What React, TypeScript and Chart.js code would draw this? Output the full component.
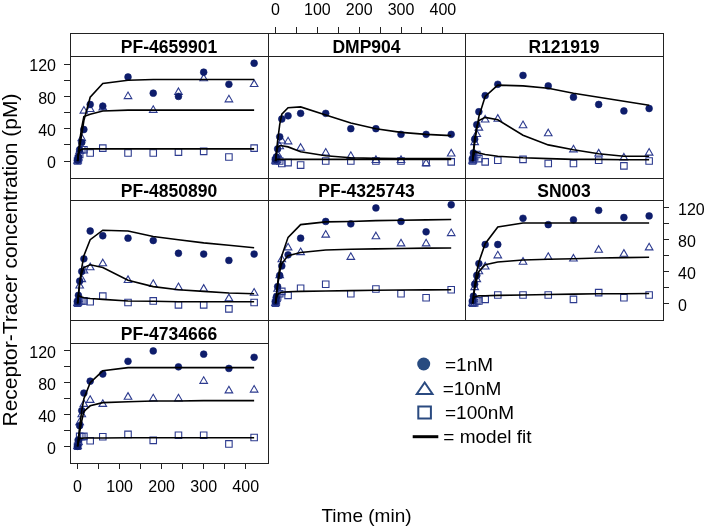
import React, { useEffect, useRef } from "react";
import { Chart, registerables } from "chart.js";
Chart.register(...registerables);

const CW = 709;
const CH = 529;
const FONT = "'Liberation Sans', Arial, Helvetica, sans-serif";

// ---------- data ----------
const timeMin = [0, 2, 5, 10, 15, 30, 60, 120, 180, 240, 300, 360, 420];
const xTickValues = [0, 50, 100, 150, 200, 250, 300, 350, 400];
const yTickValues = [0, 20, 40, 60, 80, 100, 120];
const legendLabels = ["=1nM", "=10nM", "=100nM", "= model fit"];
const yTitle = "Receptor-Tracer concentration (pM)";
const xTitle = "Time (min)";

// PF-4659901
const a_obs1 = [1, 5, 14, 23, 39, 70, 68, 104, 84, 80, 110, 95, 121];
const a_obs10 = [0, 4, 12, 28, 62, 64, 66, 80, 63, 85, 102, 76, 95];
const a_obs100 = [0, 3, 8, 14, 14, 10, 16, 10, 10, 11, 12, 5, 16];
const a_fit1 = [0, 8, 18, 33, 50, 79, 96, 100, 101, 101, 101, 101, 101];
const a_fit10 = [0, 10, 25, 42, 55, 58, 62, 63, 63, 63, 63, 63, 63];
const a_fit100 = [0, 8, 13, 14.5, 15, 15, 15, 15, 15, 15, 15, 15, 15];

// DMP904
const b_obs1 = [2, 5, 15, 30, 52, 56, 59, 59, 40, 40, 33, 33, 33];
const b_obs10 = [0, 3, 8, 18, 25, 24, 16, 10, 6, 1, 1, -3, 9];
const b_obs100 = [0, 1, 2, 0, -3, -2, -5, 0, 0, 0, 0, -2, -1];
const b_fit1 = [0, 10, 25, 45, 58, 66, 67, 57, 47, 40, 35.5, 33, 31.5];
const b_fit10 = [0, 8, 17, 19, 19, 17.5, 11.5, 6.6, 4, 3.3, 3, 3, 3];
const b_fit100 = [0, 2, 2, 2, 2, 2, 2, 2, 2, 2, 2, 2, 2];

// R121919
const c_obs1 = [3, 10, 27, 45, 61, 81, 95, 106, 93, 79, 70, 62, 65];
const c_obs10 = [0, 5, 23, 33, 41, 51, 52, 44, 34, 14, 9, 4, 10];
const c_obs100 = [0, 2, 5, 8, 3, -1, 1, 2, -3, -3, 1, -6, 0];
const c_fit1 = [0, 10, 22, 40, 55, 80, 94, 93, 90, 84, 79, 74, 69];
const c_fit10 = [0, 12, 28, 42, 50, 54, 51, 32, 20, 14, 9, 6, 6];
const c_fit100 = [0, 6, 11.5, 11, 10, 8, 6, 4, 3, 2, 2, 1.5, 1.5];

// PF-4850890
const d_obs1 = [2, 10, 28, 40, 56, 91, 85, 82, 79, 63, 62, 54, 62];
const d_obs10 = [0, 5, 22, 30, 41, 45, 50, 29, 24, 20, 18, 6, 13];
const d_obs100 = [0, 2, 3, 3, 3, 2, 9, 1, 3, -2, -2, -7, 1];
const d_fit1 = [0, 11, 26, 45, 60, 80, 92, 91, 84, 80, 76, 73, 70];
const d_fit10 = [0, 10, 25, 38, 45, 48.5, 45, 29, 21, 17, 15, 13, 12];
const d_fit100 = [0, 9, 9, 8, 7, 6, 5, 3, 2.5, 2, 2, 2, 2];

// PF-4325743
const e_obs1 = [2, 8, 21, 35, 47, 61, 82, 103, 100, 120, 103, 90, 124];
const e_obs10 = [0, 5, 18, 35, 55, 70, 64, 86, 58, 84, 75, 75, 88];
const e_obs100 = [0, 3, 8, 12, 15, 10, 19, 24, 12, 18, 12, 7, 17];
const e_fit1 = [0, 10, 25, 45, 60, 83, 99, 102.5, 103, 104, 104.5, 105, 105.4];
const e_fit10 = [0, 9, 22, 40, 50, 60, 64, 67, 68, 68.5, 69, 69.5, 69.6];
const e_fit100 = [0, 6, 11, 13, 14, 14.5, 15, 15.5, 16, 16.5, 16.8, 16.9, 17];

// SN003
const f_obs1 = [3, 9, 24, 35, 50, 74, 74, 107, 99, 105, 117, 108, 110];
const f_obs10 = [0, 5, 20, 30, 40, 46, 60, 52, 58, 56, 67, 62, 70];
const f_obs100 = [0, 1, 0.5, 3, 3, 5, 10.5, 10.5, 10.5, 5, 13.5, 7, 10.5];
const f_fit1 = [0, 9, 22, 40, 52, 75, 96, 101, 101, 101, 101, 101, 101];
const f_fit10 = [0, 8, 18, 30, 40, 48.5, 52, 54.5, 55.5, 56, 57, 57.5, 58];
const f_fit100 = [0, 5, 8, 9, 9.3, 9.5, 10, 10.5, 11, 11.5, 12, 12, 12.3];

// PF-4734666
const g_obs1 = [0, 8, 26, 45, 67, 82, 91, 107, 120, 100, 116, 98, 112];
const g_obs10 = [0, 5, 30, 40, 53, 58, 53, 62, 60, 60, 82, 70, 71];
const g_obs100 = [0, 5, 12.5, 12, 12.5, 7, 12, 15, 7.5, 14, 14, 3, 11];
const g_fit1 = [0, 10, 25, 45, 60, 80, 95, 99, 99, 99, 99, 99, 99];
const g_fit10 = [0, 8, 18, 32, 44, 51, 55, 56, 57, 57, 57.5, 57.5, 57.5];
const g_fit100 = [0, 5, 10, 10, 10.5, 10.5, 10.5, 10.8, 10.8, 10.8, 10.8, 10.8, 10.8];

// ---------- layout ----------
const X_MIN = -18;
const X_MAX = 453;
const Y_MIN = -21;
const Y_MAX = 130;
const COLS = [
  [70, 268],
  [268, 465],
  [465, 663],
];
const ROWS = [
  { s: 33, t: 56, b: 178 },
  { s: 178, t: 200, b: 320 },
  { s: 320, t: 343, b: 463 },
];
const DOT = "#0e1d6b";
const OPEN = "#2d3b8f";
const FRAME = "#222";

type YKind = "left" | "right" | "title" | null;
interface PanelDef {
  name: string;
  col: number;
  row: number;
  obs: number[][];
  fit: number[][];
  y: YKind;
  bottom: boolean;
}

const panels: PanelDef[] = [
  { name: "PF-4659901", col: 0, row: 0, obs: [a_obs1, a_obs10, a_obs100], fit: [a_fit1, a_fit10, a_fit100], y: "left", bottom: false },
  { name: "DMP904", col: 1, row: 0, obs: [b_obs1, b_obs10, b_obs100], fit: [b_fit1, b_fit10, b_fit100], y: null, bottom: false },
  { name: "R121919", col: 2, row: 0, obs: [c_obs1, c_obs10, c_obs100], fit: [c_fit1, c_fit10, c_fit100], y: null, bottom: false },
  { name: "PF-4850890", col: 0, row: 1, obs: [d_obs1, d_obs10, d_obs100], fit: [d_fit1, d_fit10, d_fit100], y: "title", bottom: false },
  { name: "PF-4325743", col: 1, row: 1, obs: [e_obs1, e_obs10, e_obs100], fit: [e_fit1, e_fit10, e_fit100], y: null, bottom: false },
  { name: "SN003", col: 2, row: 1, obs: [f_obs1, f_obs10, f_obs100], fit: [f_fit1, f_fit10, f_fit100], y: "right", bottom: false },
  { name: "PF-4734666", col: 0, row: 2, obs: [g_obs1, g_obs10, g_obs100], fit: [g_fit1, g_fit10, g_fit100], y: "left", bottom: true },
];

function pts(vals: number[]) {
  return timeMin.map((t, i) => ({ x: t, y: vals[i] }));
}

function panelDatasets(obs: number[][], fit: number[][]) {
  const lines = fit.map((f) => ({
    type: "line",
    data: pts(f),
    borderColor: "#000",
    borderWidth: 1.6,
    pointRadius: 0,
    pointHoverRadius: 0,
    fill: false,
    tension: 0,
    showLine: true,
  }));
  const styles = [
    { pointStyle: "circle", pointRadius: 3.4, backgroundColor: DOT, borderColor: DOT, borderWidth: 0.6 },
    { pointStyle: "triangle", pointRadius: 4.4, backgroundColor: "rgba(255,255,255,0)", borderColor: OPEN, borderWidth: 1.1 },
    { pointStyle: "rect", pointRadius: 4.6, backgroundColor: "rgba(255,255,255,0)", borderColor: OPEN, borderWidth: 1.1 },
  ];
  const marks = obs.map((o, i) => ({
    type: "line",
    data: pts(o),
    showLine: false,
    pointHoverRadius: 0,
    ...styles[i],
  }));
  return [...lines, ...marks];
}

const tickFont = { family: FONT, size: 16 };
const gridTicks = {
  display: true,
  drawOnChartArea: false,
  drawTicks: true,
  tickLength: 6,
  color: "#222",
  tickColor: "#222",
  tickWidth: 1,
};

function yAxisCfg(kind: YKind, width: number): any {
  if (!kind) return { display: false, min: Y_MIN, max: Y_MAX };
  if (kind === "title") {
    return {
      display: true,
      position: "left",
      min: Y_MIN,
      max: Y_MAX,
      grid: { display: false },
      border: { display: false },
      ticks: { display: false },
      title: {
        display: true,
        text: yTitle,
        color: "#000",
        font: { family: FONT, size: 21 },
        padding: { top: -1.5, bottom: 0 },
      },
      afterFit: (s: any) => {
        s.width = width;
      },
    };
  }
  return {
    display: true,
    position: kind,
    min: Y_MIN,
    max: Y_MAX,
    grid: gridTicks,
    border: { display: false },
    ticks: {
      stepSize: 20,
      autoSkip: false,
      includeBounds: false,
      padding: kind === "left" ? 8 : 9,
      labelOffset: 3,
      color: "#000",
      font: tickFont,
      callback: (v: any) => (Number(v) % 40 === 0 ? String(v) : ""),
    },
    afterBuildTicks: (s: any) => {
      s.ticks = yTickValues.map((v) => ({ value: v }));
    },
    afterFit: (s: any) => {
      s.width = width;
    },
  };
}

function xAxisCfg(pos: "top" | "bottom" | null, height: number, pad: number): any {
  if (!pos) return { type: "linear", display: false, min: X_MIN, max: X_MAX };
  return {
    type: "linear",
    display: true,
    position: pos,
    min: X_MIN,
    max: X_MAX,
    grid: gridTicks,
    border: { display: false },
    ticks: {
      stepSize: 50,
      autoSkip: false,
      includeBounds: false,
      maxRotation: 0,
      minRotation: 0,
      padding: pad,
      color: "#000",
      font: tickFont,
      callback: (v: any) => (Number(v) % 100 === 0 ? String(v) : ""),
    },
    afterBuildTicks: (s: any) => {
      s.ticks = xTickValues.map((v) => ({ value: v }));
    },
    afterFit: (s: any) => {
      s.height = height;
    },
  };
}

function framePlugin(name: string, stripTop: number) {
  return {
    id: "panelFrame",
    afterDraw(chart: any) {
      const { ctx, chartArea: a } = chart;
      const l = Math.round(a.left) + 0.5;
      const r = Math.round(a.right) + 0.5;
      const t = Math.round(a.top) + 0.5;
      const b = Math.round(a.bottom) + 0.5;
      const s = stripTop + 0.5;
      ctx.save();
      ctx.fillStyle = "#fff";
      ctx.fillRect(l, s, r - l, t - s);
      ctx.strokeStyle = FRAME;
      ctx.lineWidth = 1;
      ctx.strokeRect(l, s, r - l, b - s);
      ctx.beginPath();
      ctx.moveTo(l, t);
      ctx.lineTo(r, t);
      ctx.stroke();
      ctx.fillStyle = "#000";
      ctx.font = `bold 17.5px ${FONT}`;
      ctx.textAlign = "center";
      ctx.textBaseline = "alphabetic";
      ctx.fillText(name, (a.left + a.right) / 2, a.top - 3.5);
      ctx.restore();
    },
  };
}

const legendPlugin = {
  id: "keyLegend",
  afterDraw(chart: any) {
    const ctx = chart.ctx;
    ctx.save();
    // circle
    ctx.fillStyle = "#284b80";
    ctx.beginPath();
    ctx.arc(423.7, 364, 6.5, 0, Math.PI * 2);
    ctx.fill();
    // triangle
    ctx.strokeStyle = "#2a4a80";
    ctx.lineWidth = 2;
    ctx.beginPath();
    ctx.moveTo(424.7, 382.5);
    ctx.lineTo(432.5, 394);
    ctx.lineTo(416.8, 394);
    ctx.closePath();
    ctx.stroke();
    // square
    ctx.strokeRect(418.3, 406.5, 12.6, 12);
    // line
    ctx.strokeStyle = "#000";
    ctx.lineWidth = 3;
    ctx.beginPath();
    ctx.moveTo(412.7, 436.7);
    ctx.lineTo(438.3, 436.7);
    ctx.stroke();
    // labels
    ctx.fillStyle = "#000";
    ctx.font = `19px ${FONT}`;
    ctx.textAlign = "left";
    ctx.textBaseline = "alphabetic";
    const xs = [445, 442.7, 445, 443.3];
    const ys = [370.7, 395, 419, 443.3];
    legendLabels.forEach((lab, i) => ctx.fillText(lab, xs[i], ys[i]));
    ctx.restore();
  },
};

function baseOptions(padding: any, scales: any): any {
  return {
    responsive: false,
    maintainAspectRatio: false,
    animation: false,
    devicePixelRatio: 1,
    events: [],
    layout: { padding },
    plugins: { legend: { display: false }, tooltip: { enabled: false }, title: { display: false } },
    scales,
  };
}

function buildConfigs(): any[] {
  const cfgs: any[] = [];
  // decor: top x axis over DMP904
  {
    const [l, r] = COLS[1];
    const padding = { left: l, right: CW - r, top: 0, bottom: CH - ROWS[0].t };
    cfgs.push({
      type: "line",
      data: { datasets: [] },
      options: baseOptions(padding, {
        x: xAxisCfg("top", ROWS[0].s, 7),
        y: { display: false, min: Y_MIN, max: Y_MAX },
      }),
    });
  }
  // panels
  panels.forEach((p) => {
    const [l, r] = COLS[p.col];
    const row = ROWS[p.row];
    const leftAxis = p.y === "left" || p.y === "title";
    const padding = {
      left: leftAxis ? 0 : l,
      right: p.y === "right" ? 0 : CW - r,
      top: row.t,
      bottom: p.bottom ? 0 : CH - row.b,
    };
    cfgs.push({
      type: "line",
      data: { datasets: panelDatasets(p.obs, p.fit) },
      options: baseOptions(padding, {
        x: xAxisCfg(p.bottom ? "bottom" : null, CH - row.b, 9),
        y: yAxisCfg(p.y, p.y === "right" ? CW - r : l),
      }),
      plugins: [framePlugin(p.name, row.s)],
    });
  });
  // decor: x title + key
  {
    const [l, r] = COLS[1];
    const row = ROWS[2];
    const padding = { left: l, right: CW - r, top: row.t, bottom: 0 };
    cfgs.push({
      type: "line",
      data: { datasets: [] },
      options: baseOptions(padding, {
        x: {
          type: "linear",
          display: true,
          position: "bottom",
          min: X_MIN,
          max: X_MAX,
          grid: { display: false },
          border: { display: false },
          ticks: { display: false },
          title: {
            display: true,
            text: xTitle,
            color: "#000",
            font: { family: FONT, size: 19 },
            padding: { top: 0, bottom: 1 },
          },
          afterFit: (s: any) => {
            s.height = CH - row.b;
          },
        },
        y: { display: false, min: Y_MIN, max: Y_MAX },
      }),
      plugins: [legendPlugin],
    });
  }
  return cfgs;
}

const N_CHARTS = panels.length + 2;

export default function App() {
  const refs = useRef<(HTMLCanvasElement | null)[]>([]);
  useEffect(() => {
    const cfgs = buildConfigs();
    const charts = cfgs.map((cfg, i) => new Chart(refs.current[i] as HTMLCanvasElement, cfg));
    return () => charts.forEach((c) => c.destroy());
  }, []);
  return (
    <div
      style={{
        position: "absolute",
        left: 0,
        top: 0,
        width: CW,
        height: CH,
        background: "#fff",
        overflow: "hidden",
      }}
    >
      {Array.from({ length: N_CHARTS }).map((_, i) => (
        <canvas
          key={i}
          ref={(el) => {
            refs.current[i] = el;
          }}
          width={CW}
          height={CH}
          style={{ position: "absolute", left: 0, top: 0, width: CW, height: CH }}
        />
      ))}
    </div>
  );
}
